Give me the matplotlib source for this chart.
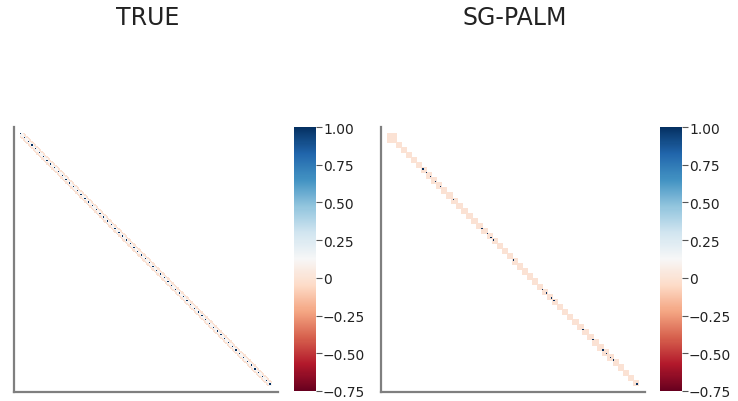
import numpy as np
import matplotlib.pyplot as plt
from matplotlib.colors import Normalize

# matrix size and colour range
n = 200
vmin, vmax = -0.75, 1.00

# TRUE: band around the diagonal
true_diag = 1.0      # every third diagonal cell
true_diag_step = 3
true_inner = 0.12    # |i-j| <= 1 elsewhere
true_band = 0.0      # |i-j| <= 3
true_width = 3
# SG-PALM: 5x5 blocks of zeros stepping by 4 along the diagonal, first block bigger
block = 5
step = 4
first_block = 8
sg_value = 0.0
sg_diag_value = 1.0
sg_dots = [28, 31, 34, 38, 42, 52, 75, 79, 82, 84, 100, 123, 126, 130, 132,
           155, 163, 171, 174, 177, 179, 198]

cbar_ticks = [-0.75, -0.5, -0.25, 0, 0.25, 0.5, 0.75, 1.0]
cbar_labels = ["\u22120.75", "\u22120.50", "\u22120.25", "0", "0.25", "0.50", "0.75", "1.00"]

# build matrices (NaN = not drawn)
i, j = np.indices((n, n))
d = np.abs(i - j)
M_true = np.full((n, n), np.nan)
M_true[d <= true_width] = true_band
M_true[d <= 1] = true_inner
M_true[(d == 0) & (i % true_diag_step == 0)] = true_diag

M_sg = np.full((n, n), np.nan)
M_sg[:first_block, :first_block] = sg_value
for s in range(first_block - 1, n, step):
    M_sg[s:s + block, s:s + block] = sg_value
for k in sg_dots:
    M_sg[k, k] = sg_diag_value

fig = plt.figure(figsize=(7.38, 4.02), dpi=100)
norm = Normalize(vmin=vmin, vmax=vmax)
cmap = plt.get_cmap("RdBu")

panels = [("TRUE", M_true, 14, 294), ("SG-PALM", M_sg, 381, 660)]
for title, M, ax_x, cb_x in panels:
    ax = fig.add_axes([ax_x / 738, 9 / 402, 264 / 738, 265 / 402])
    ax.imshow(M, cmap=cmap, norm=norm, origin="upper", aspect="auto",
              interpolation="nearest", extent=(-0.5, n - 0.5, n - 0.5, -0.5))
    pad = 5
    ax.set_xlim(-0.5 - pad, n - 0.5 + pad)
    ax.set_ylim(n - 0.5 + pad, -0.5 - pad)
    ax.set_xticks([])
    ax.set_yticks([])
    for sp in ["top", "right"]:
        ax.spines[sp].set_visible(False)
    for sp in ["left", "bottom"]:
        ax.spines[sp].set_color("#7f7f7f")
        ax.spines[sp].set_linewidth(1.6)
    fig.text((ax_x + 134) / 738, 1 - 18 / 402, title, ha="center", va="center",
             fontsize=17, color="#222222")

    cax = fig.add_axes([cb_x / 738, 10 / 402, 22 / 738, 264 / 402])
    sm = plt.cm.ScalarMappable(norm=norm, cmap=cmap)
    cb = fig.colorbar(sm, cax=cax)
    cb.outline.set_visible(False)
    cb.set_ticks(cbar_ticks)
    cb.set_ticklabels(cbar_labels)
    cax.tick_params(length=4, width=0.8, color="#555555", labelsize=10,
                    labelcolor="#222222", pad=1)

fig.savefig("out.png", dpi=100)
